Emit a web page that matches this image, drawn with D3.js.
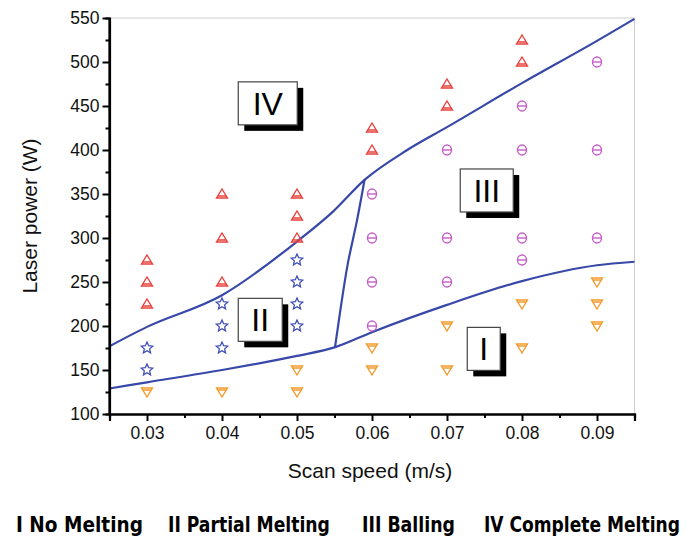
<!DOCTYPE html>
<html><head><meta charset="utf-8">
<script src="https://cdn.jsdelivr.net/npm/d3@7/dist/d3.min.js"></script>
<style>body{margin:0;background:#fff}svg{display:block}</style>
</head><body>
<svg id="c" width="686" height="539"></svg>
<script>
// ---- data ----
const xTicks = [0.03,0.04,0.05,0.06,0.07,0.08,0.09];
const yTicks = [100,150,200,250,300,350,400,450,500,550];
// Complete melting (IV) - red up triangles
const completeMelting = [[0.03,275],[0.03,250],[0.03,225],[0.04,350],[0.04,300],[0.04,250],[0.05,350],[0.05,325],[0.05,300],[0.06,425],[0.06,400],[0.07,475],[0.07,450],[0.08,525],[0.08,500]];
// Partial melting (II) - blue stars
const partialMelting = [[0.03,175],[0.03,150],[0.04,225],[0.04,200],[0.04,175],[0.05,275],[0.05,250],[0.05,225],[0.05,200]];
// Balling (III) - magenta circles
const balling = [[0.06,350],[0.06,300],[0.06,250],[0.06,200],[0.07,400],[0.07,300],[0.07,250],[0.08,450],[0.08,400],[0.08,300],[0.08,275],[0.09,500],[0.09,400],[0.09,300]];
// No melting (I) - orange down triangles
const noMelting = [[0.03,125],[0.04,125],[0.05,150],[0.05,125],[0.06,175],[0.06,150],[0.07,200],[0.07,150],[0.08,225],[0.08,175],[0.09,250],[0.09,225],[0.09,200]];
// boundary curves
const upperBoundary = [[0.025,177],[0.03,199],[0.04,235],[0.05,296],[0.0548,330],[0.059,366],[0.0647,400],[0.07,426],[0.08,476],[0.09,524],[0.095,549]];
const lowerBoundary = [[0.025,129],[0.03,136],[0.04,150],[0.05,166],[0.0551,176],[0.06,193],[0.07,224],[0.08,251],[0.09,269],[0.095,273]];
const middleBoundary = [[0.05507,176],[0.05573,215],[0.0568,272],[0.058,320],[0.059,366]];
// region labels
const regionLabels = [{t:"IV",x:0.0461,y:453},{t:"III",x:0.0753,y:354},{t:"II",x:0.0451,y:207},{t:"I",x:0.0749,y:174}];
const legendItems = ["I No Melting","II Partial Melting","III Balling","IV Complete Melting"];

// ---- layout ----
const svg = d3.select("#c");
const L=109.5, T=18, R=634.5, B=414;
const x = d3.scaleLinear().domain([0.025,0.095]).range([L,R]);
const y = d3.scaleLinear().domain([100,550]).range([B,T]);
const font = "Arial, 'Liberation Sans', sans-serif";

// frame (top/right)
svg.append("path").attr("d",`M${L},${T}H${R}V${B}`).attr("fill","none").attr("stroke","#cfcfcf").attr("stroke-width",1);

// curves
const line = d3.line().x(d=>x(d[0])).y(d=>y(d[1])).curve(d3.curveMonotoneX);
const lineV = d3.line().x(d=>x(d[0])).y(d=>y(d[1])).curve(d3.curveMonotoneY);
const curveColor = "#3848a8";
svg.append("path").attr("d",line(upperBoundary)).attr("fill","none").attr("stroke",curveColor).attr("stroke-width",2.2);
svg.append("path").attr("d",line(lowerBoundary)).attr("fill","none").attr("stroke",curveColor).attr("stroke-width",2.2);
svg.append("path").attr("d",lineV(middleBoundary)).attr("fill","none").attr("stroke",curveColor).attr("stroke-width",2.2);

// markers
function drawUp(g,d){const cx=x(d[0]),cy=y(d[1]);
  g.append("path").attr("d",`M${cx},${cy-5}L${cx+5.5},${cy+4}L${cx-5.5},${cy+4}Z M${cx-4},${cy+2}H${cx+4}`)
   .attr("fill","none").attr("stroke","#e8413c").attr("stroke-width",1.4);}
function drawDown(g,d){const cx=x(d[0]),cy=y(d[1]);
  g.append("path").attr("d",`M${cx},${cy+5}L${cx+5.5},${cy-4}L${cx-5.5},${cy-4}Z M${cx-4},${cy-2}H${cx+4}`)
   .attr("fill","none").attr("stroke","#f39a2c").attr("stroke-width",1.4);}
function drawCirc(g,d){const cx=x(d[0]),cy=y(d[1]);
  g.append("ellipse").attr("cx",cx).attr("cy",cy).attr("rx",4.5).attr("ry",5).attr("fill","none").attr("stroke","#c45ec8").attr("stroke-width",1.4);
  g.append("path").attr("d",`M${cx-4.5},${cy}H${cx+4.5}`).attr("stroke","#c45ec8").attr("stroke-width",1.4);}
function drawStar(g,d){const cx=x(d[0]),cy=y(d[1]);
  const pts=[];for(let i=0;i<10;i++){const r=i%2?2.8:6;const a=-Math.PI/2+i*Math.PI/5;pts.push([cx+r*Math.cos(a),cy+r*Math.sin(a)]);}
  g.append("path").attr("d","M"+pts.map(p=>p.join(",")).join("L")+"Z").attr("fill","none").attr("stroke","#3f4fb8").attr("stroke-width",1.3);}
const gm = svg.append("g");
completeMelting.forEach(d=>drawUp(gm,d));
partialMelting.forEach(d=>drawStar(gm,d));
balling.forEach(d=>drawCirc(gm,d));
noMelting.forEach(d=>drawDown(gm,d));

// region label boxes
const boxW = {"I":33,"II":44,"III":53,"IV":59};
regionLabels.forEach(r=>{
  const cx=x(r.x), cy=y(r.y);
  const w = boxW[r.t], h = 43;
  svg.append("rect").attr("x",cx-w/2+6).attr("y",cy-h/2+6).attr("width",w).attr("height",h).attr("fill","#000");
  svg.append("rect").attr("x",cx-w/2).attr("y",cy-h/2).attr("width",w).attr("height",h).attr("fill","#fff").attr("stroke","#444").attr("stroke-width",1.2);
  svg.append("text").attr("x",cx).attr("y",cy+11.5).attr("text-anchor","middle").attr("font-family",font).attr("font-size",32).attr("fill","#000").text(r.t);
});

// axes
const xAxis = svg.append("g").attr("transform",`translate(0,${B})`).call(d3.axisBottom(x).tickValues(xTicks).tickSize(7).tickPadding(6).tickFormat(d3.format(".2f")));
const yAxis = svg.append("g").attr("transform",`translate(${L},0)`).call(d3.axisLeft(y).tickValues(yTicks).tickSize(7).tickPadding(3).tickFormat(d3.format("d")));
// minor ticks
svg.append("g").attr("transform",`translate(0,${B})`).call(d3.axisBottom(x).tickValues([0.025,0.035,0.045,0.055,0.065,0.075,0.085,0.095]).tickSize(4).tickFormat(""));
svg.append("g").attr("transform",`translate(${L},0)`).call(d3.axisLeft(y).tickValues([125,175,225,275,325,375,425,475,525]).tickSize(4).tickFormat(""));
svg.selectAll(".domain").attr("stroke","#000").attr("stroke-width",2.2);
svg.selectAll(".tick line").attr("stroke","#000").attr("stroke-width",2);
svg.selectAll(".tick text").attr("font-family",font).attr("font-size",17.5).attr("fill","#111");
yAxis.selectAll(".domain").attr("d",`M-0,${B+1}V${T}`);

// axis titles
svg.append("text").attr("x",370).attr("y",478).attr("text-anchor","middle").attr("font-family",font).attr("font-size",21).attr("fill","#111").text("Scan speed (m/s)");
svg.append("text").attr("transform","translate(37,216) rotate(-90)").attr("text-anchor","middle").attr("font-family",font).attr("font-size",21).attr("fill","#111").text("Laser power (W)");

// bottom legend text (scaled horizontally to the reference widths)
const legX=[16,168,362,484], legW=[127,162,93,196];
legendItems.forEach((t,i)=>{
  const tx = svg.append("text").attr("x",0).attr("y",0)
    .attr("font-family","'Liberation Sans Narrow', 'Arial Narrow', 'DejaVu Sans Condensed', Arial, sans-serif")
    .attr("font-weight","bold").attr("font-size",21).attr("fill","#000").text(t);
  const w = tx.node().getComputedTextLength() || legW[i];
  tx.attr("transform",`translate(${legX[i]},532) scale(${legW[i]/w},1)`);
});
</script>
</body></html>
